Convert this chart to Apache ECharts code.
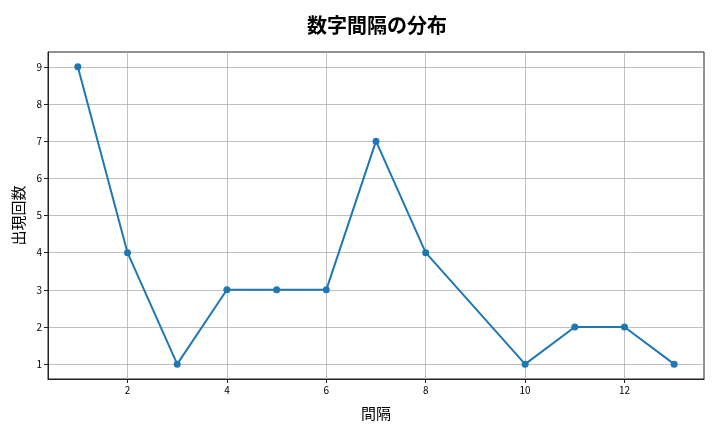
<!DOCTYPE html>
<html>
<head>
<meta charset="utf-8">
<script src="https://cdn.jsdelivr.net/npm/echarts@6/dist/echarts.min.js"></script>
<style>
html, body { margin: 0; padding: 0; background: #fff; }
#container1 { width: 720px; height: 432px; }
</style>
</head>
<body>
<div id="container1"></div>
<script>
// 間隔ごとの出現回数
var intervals = [1, 2, 3, 4, 5, 6, 7, 8, 10, 11, 12, 13];
var counts = [9, 4, 1, 3, 3, 3, 7, 4, 1, 2, 2, 1];
var xTicks = [2, 4, 6, 8, 10, 12];
var yTicks = [1, 2, 3, 4, 5, 6, 7, 8, 9];

var FONT = '"Noto Sans CJK JP", "DejaVu Sans", sans-serif';

function Chart1_Init() {
    var myChart = echarts.init(document.getElementById("container1"));
    var points = [];
    for (var i = 0; i < intervals.length; i++) {
        points.push([intervals[i], counts[i]]);
    }
    var option = {
        animation: false,
        title: {
            text: '数字間隔の分布',
            left: 372,
            textAlign: 'center',
            top: 10,
            textStyle: { fontFamily: FONT, fontSize: 20, fontWeight: 'bold', color: '#000' }
        },
        grid: {
            left: 48,
            right: 16,
            top: 52,
            bottom: 53,
            show: true,
            borderColor: '#222',
            borderWidth: 1,
            backgroundColor: 'transparent'
        },
        xAxis: {
            type: 'value',
            min: 0.4,
            max: 13.6,
            name: '間隔',
            nameLocation: 'middle',
            nameGap: 27,
            nameTextStyle: { fontFamily: FONT, fontSize: 15, color: '#000' },
            axisLine: { show: true, lineStyle: { color: '#222', width: 1 } },
            axisTick: { show: true, length: 4, lineStyle: { color: '#222' }, customValues: xTicks },
            axisLabel: { fontFamily: FONT, fontSize: 10, color: '#000', margin: 6, customValues: xTicks },
            splitLine: { show: true, lineStyle: { color: '#b0b0b0', width: 0.8 } }
        },
        yAxis: {
            type: 'value',
            min: 0.6,
            max: 9.4,
            name: '出現回数',
            nameLocation: 'middle',
            nameGap: 14,
            nameRotate: 90,
            nameTextStyle: { fontFamily: FONT, fontSize: 15, color: '#000' },
            axisLine: { show: true, lineStyle: { color: '#222', width: 1 } },
            axisTick: { show: true, length: 4, lineStyle: { color: '#222' }, customValues: yTicks },
            axisLabel: { fontFamily: FONT, fontSize: 10, color: '#000', margin: 6, customValues: yTicks },
            splitLine: { show: true, lineStyle: { color: '#b0b0b0', width: 0.8 } }
        },
        series: [
            {
                type: 'line',
                data: points,
                symbol: 'circle',
                symbolSize: 7,
                itemStyle: { color: '#1f77b4' },
                lineStyle: { color: '#1f77b4', width: 2 }
            }
        ]
    };
    myChart.setOption(option);
}

Chart1_Init();
</script>
</body>
</html>
